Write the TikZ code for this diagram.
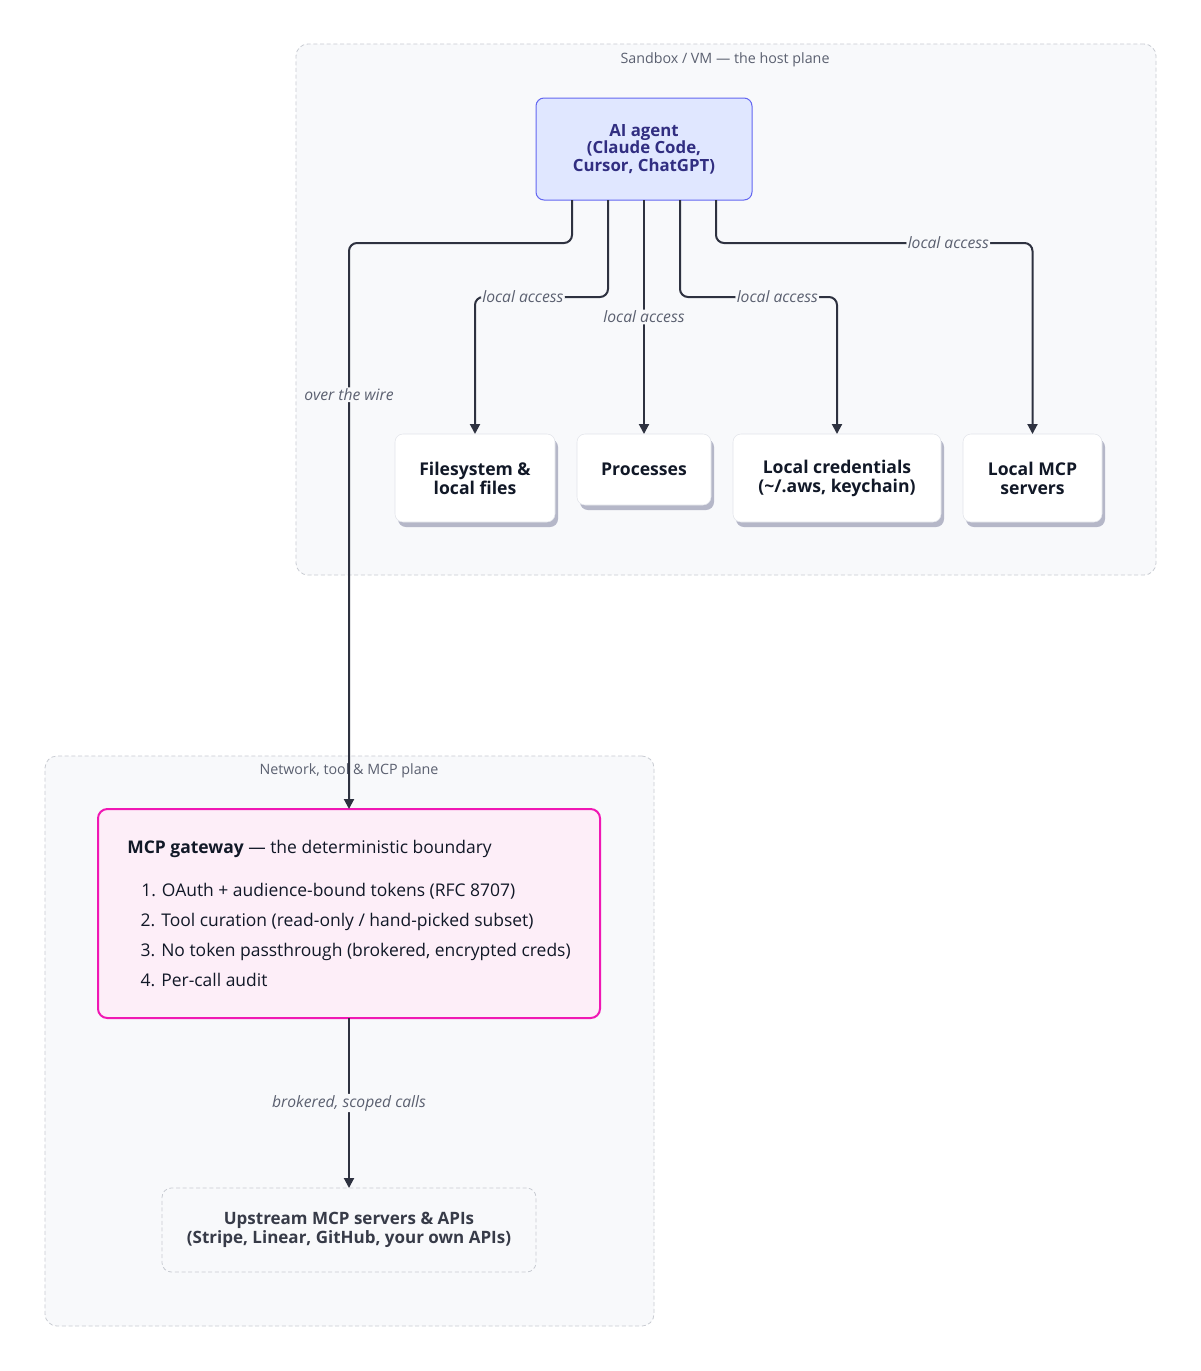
\documentclass[tikz,border=0pt]{standalone}
\usepackage{fontspec}
\setmainfont{Open Sans}
\usetikzlibrary{arrows.meta,calc,shadows}
\definecolor{wirec}{HTML}{2E3240}
\definecolor{planebg}{HTML}{F8F9FB}
\definecolor{planeline}{HTML}{C8CBD2}
\definecolor{planetext}{HTML}{5B6070}
\definecolor{agentfill}{HTML}{E0E7FF}
\definecolor{agentline}{HTML}{6366F1}
\definecolor{agenttext}{HTML}{312E81}
\definecolor{gwfill}{HTML}{FDEEF8}
\definecolor{gwline}{HTML}{F018B4}
\definecolor{boxline}{HTML}{E2E4EA}
\definecolor{shadowc}{HTML}{B5B7C8}
\definecolor{inktext}{HTML}{111827}
\definecolor{upstext}{HTML}{373B48}

\tikzset{
  plane/.style={draw=planeline, fill=planebg, dash pattern=on 3pt off 2pt,
    rounded corners=9pt, line width=0.6pt, inner sep=0pt, outer sep=0pt},
  planetitle/.style={text=planetext, font=\fontsize{10.7}{12}\selectfont},
  hostbox/.style={draw=boxline, fill=white, rounded corners=6pt, align=center,
    outer sep=0pt, text=inktext, font=\bfseries\fontsize{13.2}{14.25}\selectfont,
    drop shadow={shadow xshift=2.25pt, shadow yshift=-3.75pt, fill=shadowc, opacity=1}},
  wire/.style={draw=wirec, line width=1.5pt, rounded corners=6pt,
    -{Triangle[length=7.5pt,width=7.5pt]}},
  lbl/.style={fill=planebg, inner sep=1pt, text=planetext,
    font=\itshape\fontsize{11.75}{12}\selectfont},
}

\begin{document}
\begin{tikzpicture}[x=0.75pt, y=-0.75pt]
  \fill[white] (0,0) rectangle (1200,1371);
  \useasboundingbox (0,0) rectangle (1200,1371);

  \node[plane, minimum width=645pt, minimum height=398.25pt] (host) at (726,309.5) {};
  \node[planetitle] (hosttitle) at (725,60) {Sandbox / VM — the host plane};
  \node[plane, minimum width=456.75pt, minimum height=427.5pt] (net) at (349.5,1041) {};
  \node[planetitle] (nettitle) at (349,771) {Network, tool \& MCP plane};

  \node[draw=agentline, fill=agentfill, rounded corners=6pt, line width=0.75pt,
    minimum width=162pt, minimum height=76.5pt, outer sep=0pt, align=center,
    text=agenttext, font=\bfseries\fontsize{12.6}{13.1}\selectfont]
    (agent) at (644,149) {AI agent\\(Claude Code,\\Cursor, ChatGPT)};

  \node[hostbox, minimum width=120pt, minimum height=66pt] (files) at (475,478) {Filesystem \&\\local files};
  \node[hostbox, minimum width=100.5pt, minimum height=53.25pt] (procs) at (644,469.5) {Processes};
  \node[hostbox, minimum width=156pt, minimum height=66pt] (creds) at (837,478) {Local credentials\\(\textasciitilde/.aws, keychain)};
  \node[hostbox, minimum width=104.25pt, minimum height=66pt] (localmcp) at (1032.5,478) {Local MCP\\servers};

  \node[draw=gwline, fill=gwfill, rounded corners=7pt, line width=1.5pt,
    minimum width=376.5pt, minimum height=156.75pt, outer sep=0pt,
    align=left, text=inktext, font=\fontsize{13.1}{22.5}\selectfont]
    (gateway) at (349,913.5)
    {\textbf{MCP gateway} — the deterministic boundary\\[9.75pt]
     \hspace*{10.5pt}1. OAuth + audience-bound tokens (RFC 8707)\\
     \hspace*{10pt}2. Tool curation (read-only / hand-picked subset)\\
     \hspace*{10pt}3. No token passthrough (brokered, encrypted creds)\\
     \hspace*{10pt}4. Per-call audit};

  \node[plane, minimum width=280.5pt, minimum height=63pt, rounded corners=7pt,
    align=center, text=upstext, font=\bfseries\fontsize{12.75}{14.25}\selectfont]
    (upstream) at (349,1230) {Upstream MCP servers \& APIs\\(Stripe, Linear, GitHub, your own APIs)};

  \draw[wire] ($(agent.south)+(-72,0)$) -- ++(0,43) -| (gateway.north)
    node[lbl, pos=0.634] {over the wire};
  \draw[wire] ($(agent.south)+(-36,0)$) -- ++(0,97) -| (files.north)
    node[lbl, pos=0.32] {local access};
  \draw[wire] (agent.south) -- (procs.north)
    node[lbl, pos=0.5] {local access};
  \draw[wire] ($(agent.south)+(36,0)$) -- ++(0,97) -| (creds.north)
    node[lbl, pos=0.31] {local access};
  \draw[wire] ($(agent.south)+(72,0)$) -- ++(0,43) -| (localmcp.north)
    node[lbl, pos=0.367] {local access};
  \draw[wire] (gateway.south) -- (upstream.north)
    node[lbl, pos=0.5] {brokered, scoped calls};
\end{tikzpicture}
\end{document}
